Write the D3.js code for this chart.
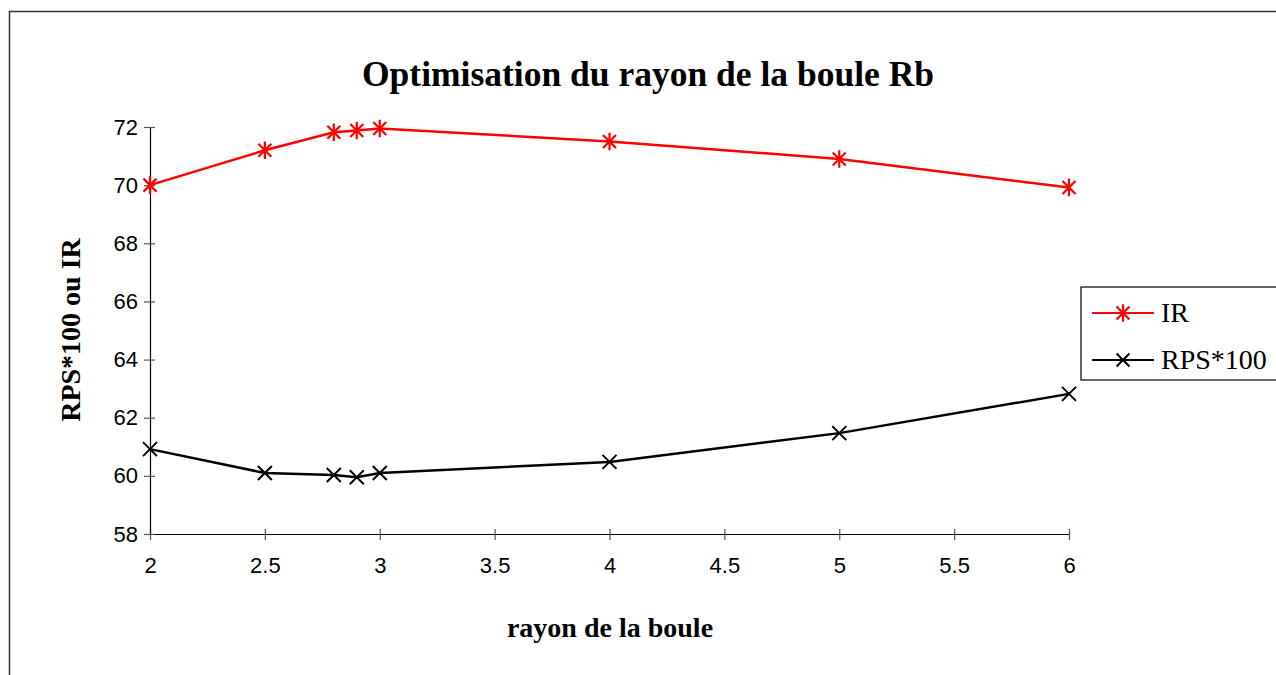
<!DOCTYPE html>
<html>
<head>
<meta charset="utf-8">
<script src="https://cdn.jsdelivr.net/npm/d3@7"></script>
<style>
  html, body { margin: 0; padding: 0; background: #fff; }
  svg { display: block; }
  .axis text { font-family: 'Liberation Sans', Arial, sans-serif; font-size: 22px; fill: #000; }
</style>
</head>
<body>
<svg id="chart" width="1276" height="675"></svg>
<script>
// Ball radius values (x) and the two measured series
const rayon = [2, 2.5, 2.8, 2.9, 3, 4, 5, 6];
const irValues = [70.0, 71.2, 71.82, 71.88, 71.95, 71.5, 70.9, 69.92];
const rpsValues = [60.92, 60.1, 60.03, 59.95, 60.1, 60.48, 61.47, 62.82];
const xTicks = [2, 2.5, 3, 3.5, 4, 4.5, 5, 5.5, 6];
const yTicks = [58, 60, 62, 64, 66, 68, 70, 72];
const seriesNames = ["IR", "RPS*100"];
const titleText = "Optimisation du rayon de la boule Rb";
const xTitle = "rayon de la boule";
const yTitle = "RPS*100 ou IR";

const svg = d3.select("#chart");
const serif = "'Liberation Serif', 'Times New Roman', serif";

// outer chart-area frame (only top and left edges are visible)
svg.append("line").attr("x1", 9).attr("x2", 1276).attr("y1", 11.5).attr("y2", 11.5)
  .attr("stroke", "#333").attr("stroke-width", 1.5);
svg.append("line").attr("x1", 9.5).attr("x2", 9.5).attr("y1", 11).attr("y2", 675)
  .attr("stroke", "#333").attr("stroke-width", 1.5);

const x = d3.scaleLinear().domain([2, 6]).range([150, 1069]);
const y = d3.scaleLinear().domain([58, 72]).range([534, 127]);

// axes
const xAxis = svg.append("g").attr("class", "axis").attr("transform", `translate(0,${y(58)})`)
  .call(d3.axisBottom(x).tickValues(xTicks).tickFormat(d3.format("")).tickSizeInner(6).tickSizeOuter(0).tickPadding(17));
const yAxis = svg.append("g").attr("class", "axis").attr("transform", `translate(${x(2)},0)`)
  .call(d3.axisLeft(y).tickValues(yTicks).tickSizeInner(6).tickSizeOuter(0).tickPadding(6));

[xAxis, yAxis].forEach(a => {
  a.select(".domain").attr("stroke", "#000").attr("stroke-width", 1.2);
  a.selectAll(".tick line").attr("stroke", "#555").attr("stroke-width", 1.2);
});
// ticks cross the axis line
xAxis.selectAll(".tick line").attr("y1", -5).attr("y2", 6);
yAxis.selectAll(".tick line").attr("x1", 5).attr("x2", -6);

// series
const line = d3.line().x((d, i) => x(rayon[i])).y(d => y(d));

function star(g, cx, cy, color, r) {
  g.append("path")
    .attr("d", `M${cx - r},${cy - r}L${cx + r},${cy + r}M${cx - r},${cy + r}L${cx + r},${cy - r}M${cx},${cy - r * 1.35}L${cx},${cy + r * 1.35}`)
    .attr("stroke", color).attr("stroke-width", 2.2).attr("fill", "none");
}
function cross(g, cx, cy, color, r) {
  g.append("path")
    .attr("d", `M${cx - r},${cy - r}L${cx + r},${cy + r}M${cx - r},${cy + r}L${cx + r},${cy - r}`)
    .attr("stroke", color).attr("stroke-width", 2).attr("fill", "none");
}

const gIR = svg.append("g");
gIR.append("path").attr("d", line(irValues)).attr("fill", "none").attr("stroke", "#ff0000").attr("stroke-width", 2.5);
irValues.forEach((v, i) => star(gIR, x(rayon[i]), y(v), "#ff0000", 6.5));

const gRPS = svg.append("g");
gRPS.append("path").attr("d", line(rpsValues)).attr("fill", "none").attr("stroke", "#000").attr("stroke-width", 2.5);
rpsValues.forEach((v, i) => cross(gRPS, x(rayon[i]), y(v), "#000", 7));

// titles
svg.append("text").attr("x", 648).attr("y", 86).attr("text-anchor", "middle")
  .attr("font-family", serif).attr("font-weight", "bold").attr("font-size", 35.5)
  .text(titleText);
svg.append("text").attr("x", 610).attr("y", 637).attr("text-anchor", "middle")
  .attr("font-family", serif).attr("font-weight", "bold").attr("font-size", 28)
  .text(xTitle);
svg.append("text").attr("transform", "translate(80,330) rotate(-90)").attr("text-anchor", "middle")
  .attr("font-family", serif).attr("font-weight", "bold").attr("font-size", 28)
  .text(yTitle);

// legend
const lg = svg.append("g");
lg.append("rect").attr("x", 1081).attr("y", 287).attr("width", 200).attr("height", 93)
  .attr("fill", "#fff").attr("stroke", "#000").attr("stroke-width", 1.2);
const legendRows = [
  { name: seriesNames[0], color: "#ff0000", mark: star, r: 6.5, cy: 313 },
  { name: seriesNames[1], color: "#000", mark: cross, r: 6.5, cy: 360 }
];
legendRows.forEach(row => {
  lg.append("line").attr("x1", 1092).attr("x2", 1154).attr("y1", row.cy).attr("y2", row.cy)
    .attr("stroke", row.color).attr("stroke-width", 2);
  row.mark(lg, 1123, row.cy, row.color, row.r);
  lg.append("text").attr("x", 1161).attr("y", row.cy + 9)
    .attr("font-family", serif).attr("font-size", 28).attr("fill", "#000")
    .text(row.name);
});
</script>
</body>
</html>
